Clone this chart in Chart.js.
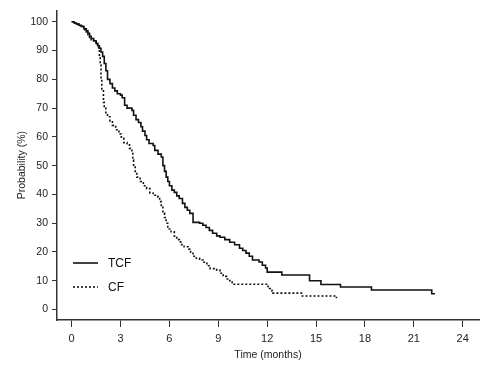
<!DOCTYPE html>
<html>
<head>
<meta charset="utf-8">
<script src="https://cdn.jsdelivr.net/npm/chart.js@4"></script>
<style>
  html, body { margin: 0; padding: 0; background: #fff; }
</style>
</head>
<body>
<canvas id="km" width="500" height="375"></canvas>
<script>
// Kaplan-Meier steps: time (months) -> probability (%)
const tcfTime = [0, 0.15, 0.3, 0.45, 0.6, 0.75, 0.9, 1.0, 1.1, 1.2,
                 1.35, 1.5, 1.6, 1.7, 1.8, 1.9, 2.0, 2.1, 2.2, 2.35,
                 2.5, 2.65, 2.8, 3.0, 3.1, 3.25, 3.4, 3.7, 3.8, 3.95,
                 4.1, 4.25, 4.35, 4.5, 4.6, 4.75, 5.0, 5.1, 5.3, 5.5,
                 5.6, 5.7, 5.8, 5.9, 6.0, 6.15, 6.3, 6.45, 6.6, 6.8,
                 6.95, 7.1, 7.25, 7.45, 7.85, 8.05, 8.25, 8.45, 8.65, 8.9,
                 9.1, 9.4, 9.7, 10.0, 10.3, 10.5, 10.7, 10.9, 11.1, 11.5,
                 11.7, 11.9, 12.0, 12.9, 14.6, 15.3, 16.5, 18.4, 22.1, 22.3];
const tcfProb = [100, 99.6, 99.2, 98.8, 98.4, 97.6, 96.9, 96, 95, 94.2,
                 93.4, 92.5, 91.7, 90.8, 89.5, 88, 85.5, 83, 80, 78.5,
                 77, 76, 75, 74.5, 73.6, 71, 70, 69.2, 67.5, 66,
                 65, 63.5, 62, 60.5, 59, 57.7, 57, 55.3, 54, 53,
                 50, 48, 46, 44.5, 43, 41.5, 40.7, 39.5, 38.6, 36.9,
                 35.5, 34.5, 33.4, 30.3, 30, 29.3, 28.5, 27.5, 26.5, 25.6,
                 25.1, 24.3, 23.4, 22.5, 21.3, 20.5, 19.6, 18.5, 17.2, 16.5,
                 15.4, 14.4, 13, 12, 10, 8.7, 7.8, 6.8, 5.5, 5.5];

const cfTime = [0, 0.15, 0.3, 0.45, 0.6, 0.75, 0.9, 1.0, 1.1, 1.2,
                1.35, 1.5, 1.6, 1.7, 1.75, 1.8, 1.85, 1.95, 2.0, 2.1,
                2.2, 2.35, 2.5, 2.7, 2.9, 3.05, 3.2, 3.4, 3.55, 3.7,
                3.75, 3.8, 3.9, 4.0, 4.2, 4.4, 4.6, 4.8, 5.0, 5.3,
                5.4, 5.5, 5.6, 5.7, 5.8, 5.9, 6.1, 6.3, 6.45, 6.6,
                6.75, 6.9, 7.2, 7.3, 7.45, 7.65, 7.85, 8.05, 8.3, 8.5,
                8.9, 9.1, 9.3, 9.5, 9.7, 9.85, 12.05, 12.15, 12.3, 12.35,
                14.1, 16.25, 16.3];
const cfProb = [100, 99.5, 99.1, 98.6, 98.2, 97.3, 96.5, 95.5, 94.6, 93.8,
                93, 92, 91, 88, 85, 80, 76, 72, 70, 68,
                67, 65.5, 64, 62.5, 61, 59.5, 58, 57.6, 56, 54.7,
                52, 49.5, 48, 46, 44.5, 43, 42, 40.5, 39.7, 39,
                37.5, 35.5, 33.5, 32, 30, 28, 27, 25.5, 24.3, 23.5,
                22.5, 21.8, 21, 20, 18.5, 17.8, 17.2, 16.4, 15.2, 14.2,
                13.7, 12.6, 11.5, 10.6, 10, 8.8, 8.0, 7.3, 6.4, 5.7,
                4.7, 4.2, 4.2];

const xTicks = [0, 3, 6, 9, 12, 15, 18, 21, 24];
const yTicks = [0, 10, 20, 30, 40, 50, 60, 70, 80, 90, 100];
const seriesNames = ['TCF', 'CF'];

const FONT = 'Liberation Sans, Arial, sans-serif';

function pairs(xs, ys) {
    return xs.map((x, i) => ({x: x, y: ys[i]}));
}

// legend sits inside the plot, lower left
const insetLegend = {
    id: 'insetLegend',
    afterDraw(chart) {
        const ctx = chart.ctx;
        const area = chart.chartArea;
        const x0 = area.left + 16;
        const rows = [area.bottom - 57, area.bottom - 33];
        ctx.save();
        chart.data.datasets.forEach((ds, i) => {
            const y = rows[i];
            ctx.strokeStyle = ds.borderColor;
            ctx.lineWidth = ds.borderWidth;
            ctx.setLineDash(ds.borderDash || []);
            ctx.beginPath();
            ctx.moveTo(x0, y);
            ctx.lineTo(x0 + 25, y);
            ctx.stroke();
            ctx.setLineDash([]);
            ctx.fillStyle = '#111';
            ctx.font = '12px ' + FONT;
            ctx.textBaseline = 'middle';
            ctx.textAlign = 'left';
            ctx.fillText(ds.label, x0 + 35, y + 1);
        });
        ctx.restore();
    }
};

new Chart(document.getElementById('km').getContext('2d'), {
    type: 'line',
    data: {
        datasets: [{
            label: seriesNames[0],
            data: pairs(tcfTime, tcfProb),
            borderColor: '#111',
            borderWidth: 1.6,
            stepped: 'before',
            pointRadius: 0,
            fill: false
        }, {
            label: seriesNames[1],
            data: pairs(cfTime, cfProb),
            borderColor: '#111',
            borderWidth: 1.6,
            borderDash: [2, 2],
            stepped: 'before',
            pointRadius: 0,
            fill: false
        }]
    },
    options: {
        responsive: false,
        animation: false,
        layout: {padding: {top: 10, right: 21, left: 0, bottom: 0}},
        plugins: {
            legend: {display: false},
            tooltip: {enabled: false}
        },
        scales: {
            x: {
                type: 'linear',
                min: -0.9,
                max: 25,
                afterBuildTicks: s => { s.ticks = xTicks.map(v => ({value: v})); },
                afterFit: s => { s.height = 55; },
                grid: {display: true, drawOnChartArea: false, drawTicks: true, tickLength: 7, color: '#333', lineWidth: 1},
                border: {display: true, color: '#333', width: 1.5},
                ticks: {color: '#222', padding: 5, font: {family: FONT, size: 11}, maxRotation: 0},
                title: {display: true, text: 'Time (months)', color: '#222', font: {family: FONT, size: 10.5}, padding: {top: 0, bottom: 14}}
            },
            y: {
                min: -3.65,
                max: 104,
                afterBuildTicks: s => { s.ticks = yTicks.map(v => ({value: v})); },
                afterFit: s => { s.width = 57; },
                grid: {display: true, drawOnChartArea: false, drawTicks: true, tickLength: 5, color: '#333', lineWidth: 1},
                border: {display: true, color: '#333', width: 1.5},
                ticks: {color: '#222', padding: 4, font: {family: FONT, size: 10.5}},
                title: {display: true, text: 'Probability (%)', color: '#222', font: {family: FONT, size: 10.5}, padding: {top: 16, bottom: 0}}
            }
        }
    },
    plugins: [insetLegend]
});
</script>
</body>
</html>
